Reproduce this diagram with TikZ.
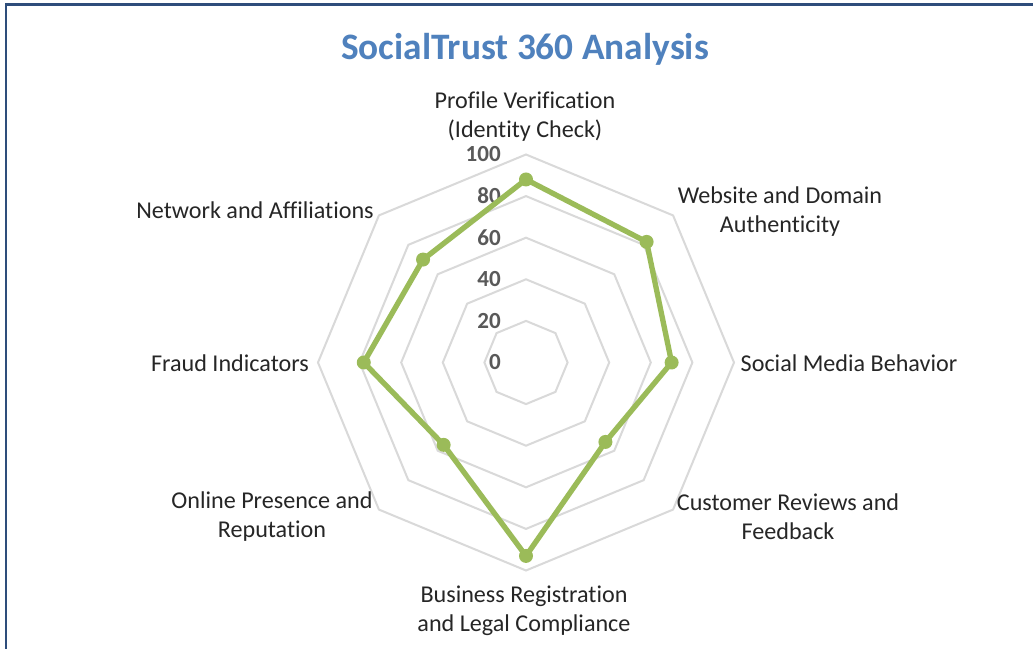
\documentclass[tikz,border=0pt]{standalone}
\usepackage{fontspec}
\setmainfont[Ligatures=NoCommon]{Carlito}
\definecolor{framecol}{HTML}{2E4D7B}
\definecolor{gridcol}{HTML}{D9D9D9}
\definecolor{serieCol}{HTML}{9BBB59}
\definecolor{titlecol}{HTML}{4F81BD}
\definecolor{numcol}{HTML}{595959}
\definecolor{labcol}{HTML}{262626}
\tikzset{
  ring/.style={draw=gridcol, line width=1.5pt, line join=miter},
  series/.style={draw=serieCol, line width=4pt, line join=round},
  marker/.style={circle, fill=serieCol, draw=none, inner sep=0pt, minimum size=10.5pt},
  axlabel/.style={font=\fontsize{18.1}{21.8}\selectfont, text=labcol, align=center, inner sep=0pt},
  numlabel/.style={font=\fontsize{17.3}{20}\selectfont\bfseries, text=numcol, anchor=east, inner sep=0pt},
  titlelabel/.style={font=\fontsize{28}{33}\selectfont\bfseries, text=titlecol, inner sep=0pt}
}
\begin{document}
\begin{tikzpicture}[x=0.75pt,y=-0.75pt]
\useasboundingbox (0,0) rectangle (1033,649);
\fill[white] (0,0) rectangle (1033,649);
\draw[framecol, line width=1.8pt] (6.2,649) -- (6.2,4.5) -- (1033,4.5);

% rings
\foreach \k in {1,...,5}{
  \pgfmathsetmacro{\r}{41.6*\k}
  \draw[ring, shift={(526,362.5)}] (90:\r) -- (45:\r) -- (0:\r) -- (-45:\r) -- (-90:\r) -- (-135:\r) -- (180:\r) -- (135:\r) -- cycle;
}

% axis numbers
\foreach \k in {0,...,5}{
  \pgfmathtruncatemacro{\val}{20*\k}
  \node[numlabel] (n\k) at (501,{362.5-41.6*\k}) {\val};
}

% data points
\foreach \v/\a/\n in {88/90/m1, 82/45/m2, 70/0/m3, 54/-45/m4, 93/-90/m5, 56/-135/m6, 78/180/m7, 70/135/m8}{
  \path[shift={(526,362.5)}] (-\a:{2.08*\v}) coordinate (c\n);
}
\draw[series] (cm1) -- (cm2) -- (cm3) -- (cm4) -- (cm5) -- (cm6) -- (cm7) -- (cm8) -- cycle;
\foreach \n in {m1,m2,m3,m4,m5,m6,m7,m8}{
  \node[marker] (\n) at (c\n) {};
}

% axis labels
\node[axlabel] (l1) at (525,117) {Profile Verification\\(Identity Check)};
\node[axlabel] (l2) at (780,211.5) {Website and Domain\\Authenticity};
\node[axlabel] (l3) at (849,363) {Social Media Behavior};
\node[axlabel] (l4) at (788,516.5) {Customer Reviews and\\Feedback};
\node[axlabel] (l5) at (524,610.5) {Business Registration\\and Legal Compliance};
\node[axlabel] (l6) at (272,516.5) {Online Presence and\\Reputation};
\node[axlabel] (l7) at (230,363) {Fraud Indicators};
\node[axlabel] (l8) at (255,210) {Network and Affiliations};

% title
\node[titlelabel, anchor=base] (title) at (525,60) {SocialTrust 360 Analysis};
\end{tikzpicture}
\end{document}
